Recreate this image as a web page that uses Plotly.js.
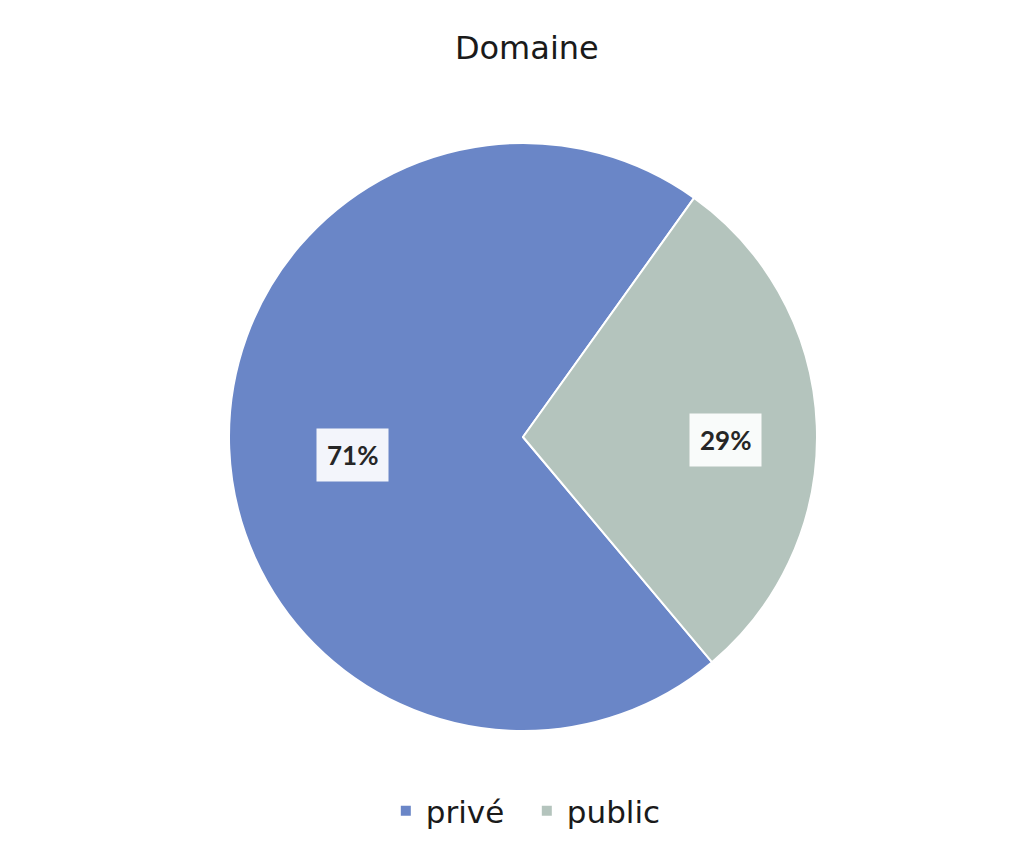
<!DOCTYPE html>
<html>
<head>
<meta charset="utf-8">
<script src="https://cdn.plot.ly/plotly-3.0.1.min.js"></script>
<style>html,body{margin:0;padding:0;background:#fff;}#chart{width:1017px;height:856px;}</style>
</head>
<body>
<div id="chart"></div>
<script>
const categories = ["privé", "public"];
const values = [71, 29];
const percentLabels = ["71%", "29%"];
const colors = ["#6a86c7", "#b4c4bd"];

// layout constants
const W = 1017, H = 856;
const centerPx = [523, 437];
const radiusPx = 294;
const rotationDeg = 140;
const labelRadiusFrac = [0.58, 0.69];
const labelYShift = -11;

const dom = {
  x: [(centerPx[0] - radiusPx) / W, (centerPx[0] + radiusPx) / W],
  y: [1 - (centerPx[1] + radiusPx) / H, 1 - (centerPx[1] - radiusPx) / H]
};

// label annotation positions derived from the slice values
const total = values.reduce((a, b) => a + b, 0);
let start = rotationDeg;
const annotations = values.map((v, i) => {
  const span = v / total * 360;
  const mid = (start + span / 2) * Math.PI / 180;
  start += span;
  const px = centerPx[0] + labelRadiusFrac[i] * radiusPx * Math.sin(mid);
  const py = centerPx[1] - labelRadiusFrac[i] * radiusPx * Math.cos(mid);
  return {
    xref: 'paper', yref: 'paper',
    x: px / W, y: 1 - py / H,
    xanchor: 'center', yanchor: 'middle',
    yshift: labelYShift,
    text: '<b>' + percentLabels[i] + '</b>',
    showarrow: false,
    font: {family: 'Lato, "Liberation Sans", sans-serif', size: 26, color: '#262626'},
    bgcolor: 'rgba(255,255,255,0.92)',
    borderpad: 10
  };
});

const trace = {
  type: 'pie',
  labels: categories,
  values: values,
  sort: false,
  direction: 'clockwise',
  rotation: rotationDeg,
  marker: {colors: colors, line: {color: '#ffffff', width: 2}},
  textinfo: 'none',
  hoverinfo: 'label+percent',
  domain: dom
};

const layout = {
  width: W, height: H,
  margin: {l: 0, r: 0, t: 0, b: 0},
  paper_bgcolor: '#ffffff',
  title: {
    text: 'Domaine',
    x: 0.518, xanchor: 'center',
    y: 1 - 48 / H, yanchor: 'middle',
    font: {family: '"DejaVu Sans", sans-serif', size: 32, color: '#1a1a1a'}
  },
  showlegend: true,
  legend: {
    orientation: 'h',
    x: 0.518, xanchor: 'center',
    y: 1 - 811 / H, yanchor: 'middle',
    entrywidth: 96,
    font: {family: '"DejaVu Sans", sans-serif', size: 31, color: '#1a1a1a'}
  },
  annotations: annotations
};

Plotly.newPlot('chart', [trace], layout, {displayModeBar: false, staticPlot: true});
</script>
</body>
</html>
